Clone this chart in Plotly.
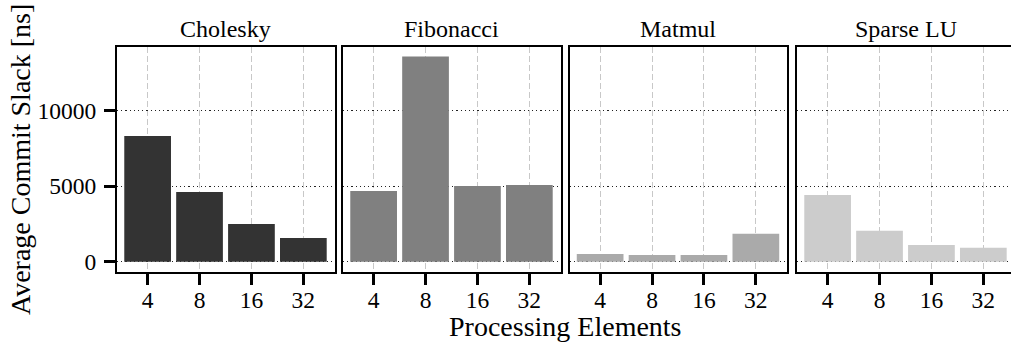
import plotly.graph_objects as go

categories = ["4", "8", "16", "32"]
benchmarks = ["Cholesky", "Fibonacci", "Matmul", "Sparse LU"]
cholesky = [8320, 4620, 2510, 1585]
fibonacci = [4690, 13580, 5020, 5080]
matmul = [520, 460, 460, 1850]
sparse_lu = [4420, 2050, 1120, 930]
series = [cholesky, fibonacci, matmul, sparse_lu]
colors = ["#333333", "#808080", "#aaaaaa", "#cccccc"]
ytick_vals = [0, 5000, 10000]
ytick_text = ["0", "5000", "10000"]

FONT = "Liberation Serif, DejaVu Serif, serif"
W, H = 1011, 344
ML, MR, MT, MB = 117, 0, 47, 72
PW = W - ML - MR

px_domains = [(117, 334.5), (343, 560.5), (569.5, 787), (797, 1011)]
domains = [((a - ML) / PW, (b - ML) / PW) for a, b in px_domains]
xranges = [[-0.59, 3.6], [-0.59, 3.6], [-0.59, 3.6], [-0.59, 3.533]]
yrange = [-670, 14200]

fig = go.Figure()
annotations = []
for i, (name, vals, col) in enumerate(zip(benchmarks, series, colors)):
    n = "" if i == 0 else str(i + 1)
    fig.add_trace(go.Bar(
        x=categories, y=vals, marker=dict(color=col, line=dict(width=0)),
        xaxis="x" + n, yaxis="y" + n, showlegend=False, width=0.9,
    ))
    xa = dict(
        domain=list(domains[i]), anchor="y" + n, type="category",
        range=xranges[i], showline=True, linecolor="black", linewidth=2,
        mirror=True, ticks="outside", ticklen=11, tickwidth=2.5, tickcolor="black",
        showgrid=True, gridcolor="#c8c8c8", griddash="6px,3px", gridwidth=1.2,
        tickfont=dict(family=FONT, size=23.5, color="black"), zeroline=False,
        ticklabelstandoff=-5,
    )
    ya = dict(
        domain=[0, 1], anchor="x" + n, range=yrange,
        showline=True, linecolor="black", linewidth=2, mirror=(i < 3),
        tickvals=ytick_vals, ticktext=ytick_text,
        showgrid=True, gridcolor="#222222", griddash="1.2px,3px", gridwidth=1.2,
        zeroline=False,
        tickfont=dict(family=FONT, size=23.5, color="black"),
    )
    if i == 0:
        ya.update(ticks="outside", ticklen=11, tickwidth=2.5, tickcolor="black",
                  showticklabels=True, ticklabelstandoff=3)
    else:
        ya.update(ticks="", showticklabels=False)
    fig.update_layout(**{"xaxis" + n: xa, "yaxis" + n: ya})
    cx = (domains[i][0] + domains[i][1]) / 2 if i < 3 else (domains[i][0] + (domains[0][1] - domains[0][0]) / 2)
    annotations.append(dict(
        text=name, x=cx, y=1, xref="paper", yref="paper", xanchor="center",
        yanchor="bottom", yshift=3, showarrow=False,
        font=dict(family=FONT, size=24, color="black"),
    ))

annotations.append(dict(
    text="Processing Elements", x=(565 - ML) / PW, y=(272 - 326) / (H - MT - MB),
    xref="paper", yref="paper", xanchor="center", yanchor="middle",
    showarrow=False, font=dict(family=FONT, size=28, color="black"),
))
annotations.append(dict(
    text="Average Commit Slack [ns]", x=(20 - ML) / PW, y=(272 - 160) / (H - MT - MB),
    xref="paper", yref="paper", xanchor="center", yanchor="middle", textangle=-90,
    showarrow=False, font=dict(family=FONT, size=28, color="black"),
))

fig.update_layout(
    width=W, height=H, margin=dict(l=ML, r=MR, t=MT, b=MB),
    plot_bgcolor="white", paper_bgcolor="white", bargap=0.1,
    annotations=annotations, font=dict(family=FONT, color="black"),
)

fig.write_html("out.html")
